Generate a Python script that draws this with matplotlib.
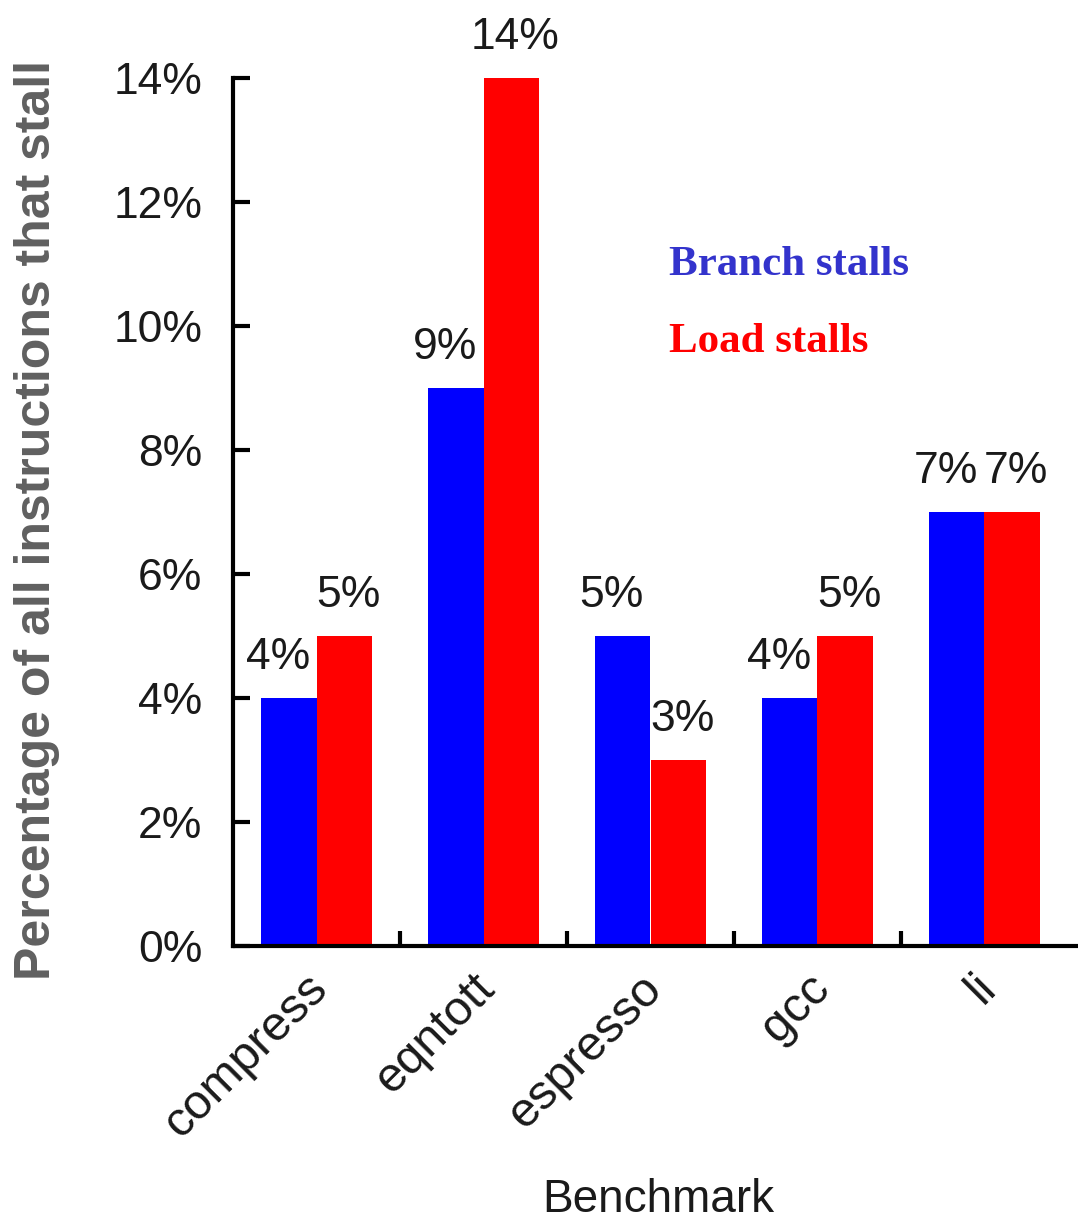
import numpy as np
import matplotlib
matplotlib.use('Agg')
import matplotlib.pyplot as plt
from matplotlib.ticker import FuncFormatter
from matplotlib.transforms import ScaledTranslation

benchmarks = ['compress', 'eqntott', 'espresso', 'gcc', 'li']
branch_stalls = [4, 9, 5, 4, 7]
load_stalls = [5, 14, 3, 5, 7]

yticks = [0, 2, 4, 6, 8, 10, 12, 14]

plt.rcParams['font.family'] = ['Liberation Sans', 'DejaVu Sans']

fig = plt.figure(figsize=(10.78, 12.22), dpi=100)
ax = fig.add_axes([233 / 1078, 1 - 946 / 1222, 1 - 233 / 1078, 868 / 1222])

x = np.arange(len(benchmarks))
w = 0.33
ax.bar(x - w / 2, branch_stalls, w, color='#0000ff', linewidth=0)
ax.bar(x + w / 2, load_stalls, w, color='#ff0000', linewidth=0)

# value labels above each bar
for xi, v in zip(x, branch_stalls):
    ax.annotate('%d%%' % v, (xi - w / 2, v), xytext=(-8, 21), textcoords='offset points',
                ha='center', va='baseline', fontsize=32, color='#1a1a1a')
for xi, v in zip(x, load_stalls):
    ax.annotate('%d%%' % v, (xi + w / 2, v), xytext=(3, 21), textcoords='offset points',
                ha='center', va='baseline', fontsize=32, color='#1a1a1a')

ax.set_xlim(-0.5, -0.5 + 845 / 167)
ax.set_ylim(0, 14)

ax.set_yticks(yticks)
ax.yaxis.set_major_formatter(FuncFormatter(lambda v, p: '%d%%' % v))
ax.tick_params(axis='y', direction='in', length=12, width=3, pad=22,
               labelsize=32, labelcolor='#1a1a1a')

# labels at the group centres, short tick marks between groups
ax.set_xticks(x)
ax.set_xticklabels(benchmarks, rotation=45, ha='right', va='top',
                   rotation_mode='anchor', fontsize=35, color='#1a1a1a')
ax.tick_params(axis='x', which='major', length=0, pad=14)
shift = ScaledTranslation(-8 / 72, 0, fig.dpi_scale_trans)
for lab in ax.get_xticklabels():
    lab.set_transform(lab.get_transform() + shift)
ax.set_xticks(x[:-1] + 0.5, minor=True)
ax.tick_params(axis='x', which='minor', direction='in', length=11, width=3)

for s in ['top', 'right']:
    ax.spines[s].set_visible(False)
for s in ['left', 'bottom']:
    ax.spines[s].set_linewidth(3)

fig.text(37 / 1078, 1 - 520 / 1222, 'Percentage of all instructions that stall',
         rotation=90, ha='center', va='center', fontsize=36, fontweight='bold',
         color='#606060')
fig.text(658 / 1078, 0.0, 'Benchmark', ha='center', va='bottom',
         fontsize=33, color='#1a1a1a')

fig.text(669 / 1078, 1 - 275 / 1222, 'Branch stalls', ha='left', va='baseline',
         fontsize=31, fontweight='bold', color='#3333cc', family='Liberation Serif')
fig.text(669 / 1078, 1 - 352 / 1222, 'Load stalls', ha='left', va='baseline',
         fontsize=31, fontweight='bold', color='#ff0000', family='Liberation Serif')

fig.savefig('out.png', dpi=100)
